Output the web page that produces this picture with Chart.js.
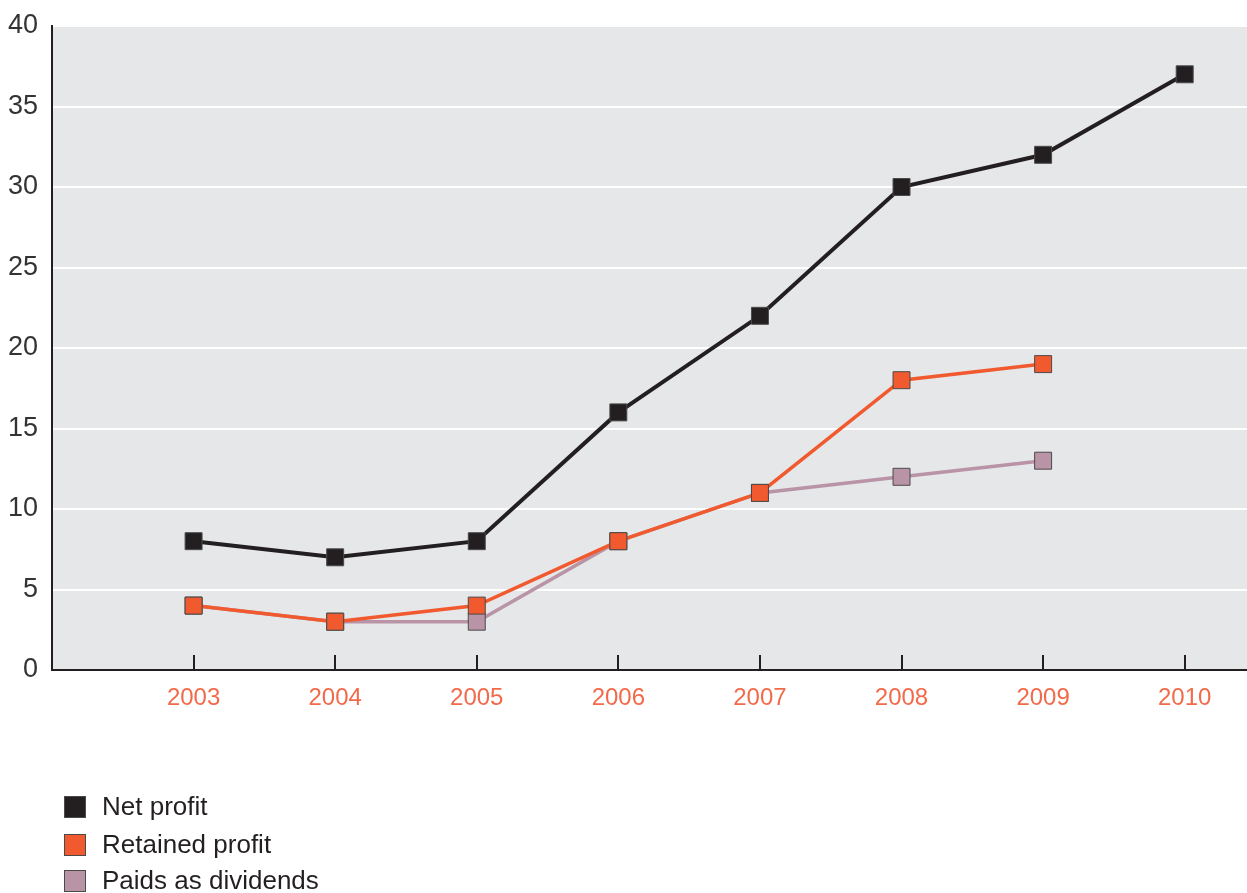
<!DOCTYPE html>
<html>
<head>
<meta charset="utf-8">
<script src="https://cdn.jsdelivr.net/npm/chart.js@4"></script>
<style>
  body { margin: 0; background: #fff; }
  #wrap { position: relative; width: 1247px; height: 893px; overflow: hidden; }
  canvas { display: block; }
  .legend { position: absolute; left: 64px; top: 0; font-family: "Liberation Sans", Arial, sans-serif; font-size: 26px; color: #231f20; }
  .legend div { position: absolute; left: 0; height: 22px; line-height: 22px; white-space: nowrap; }
  .legend span.box { position: absolute; left: 0; top: 0; width: 20px; height: 20px; border: 1px solid #4a4a4a; }
  .legend span.txt { position: absolute; left: 38px; top: -1px; }
</style>
</head>
<body>
<div id="wrap">
  <canvas id="myChart" width="1247" height="893"></canvas>
  <div class="legend" id="legend"></div>
</div>
<script>
// Data
const years = [2003, 2004, 2005, 2006, 2007, 2008, 2009, 2010];
const netProfit = [8, 7, 8, 16, 22, 30, 32, 37];
const retainedProfit = [4, 3, 4, 8, 11, 18, 19, null];
const paidDividends = [4, 3, 3, 8, 11, 12, 13, null];
const seriesNames = ['Net profit', 'Retained profit', 'Paids as dividends'];
const seriesColors = ['#231f20', '#f15a2e', '#b993a6'];
const yTicks = [0, 5, 10, 15, 20, 25, 30, 35, 40];

const toPoints = vals => years.map((y, i) => ({ x: y, y: vals[i] })).filter(p => p.y !== null);

function makeSet(label, vals, color, width) {
    return {
        label: label,
        data: toPoints(vals),
        borderColor: color,
        backgroundColor: color,
        borderWidth: width,
        pointStyle: 'rect',
        pointRadius: 12,
        pointHoverRadius: 12,
        pointBackgroundColor: color,
        pointBorderColor: '#4a4a4a',
        pointBorderWidth: 1,
        tension: 0
    };
}

// Gray plot background + inward ticks on the x axis
const plotDecor = {
    id: 'plotDecor',
    beforeDraw(chart) {
        const a = chart.chartArea;
        const c = chart.ctx;
        c.save();
        c.fillStyle = '#e6e7e9';
        c.fillRect(a.left, a.top, a.right - a.left, a.bottom - a.top);
        c.restore();
    },
    afterDatasetsDraw(chart) {
        const a = chart.chartArea;
        const c = chart.ctx;
        const xs = chart.scales.x;
        c.save();
        c.strokeStyle = '#231f20';
        c.lineWidth = 2;
        years.forEach(y => {
            const px = Math.round(xs.getPixelForValue(y));
            c.beginPath();
            c.moveTo(px, a.bottom - 15);
            c.lineTo(px, a.bottom);
            c.stroke();
        });
        c.restore();
    }
};

const ctx = document.getElementById('myChart').getContext('2d');
new Chart(ctx, {
    type: 'line',
    data: {
        datasets: [
            makeSet(seriesNames[0], netProfit, seriesColors[0], 4),
            makeSet(seriesNames[1], retainedProfit, seriesColors[1], 3.5),
            makeSet(seriesNames[2], paidDividends, seriesColors[2], 3.5)
        ]
    },
    options: {
        responsive: false,
        animation: false,
        layout: { autoPadding: false, padding: { top: 26, right: 0, bottom: 0, left: 0 } },
        scales: {
            x: {
                type: 'linear',
                min: 2002,
                max: 2010.44,
                afterFit: s => { s.height = 223; s.paddingLeft = 0; s.paddingRight = 0; },
                afterBuildTicks: s => { s.ticks = years.map(v => ({ value: v })); },
                grid: { display: false, drawTicks: false },
                border: { display: true, color: '#231f20', width: 2 },
                ticks: {
                    padding: 14,
                    color: '#f26a4a',
                    font: { family: 'Liberation Sans, Arial, sans-serif', size: 24 },
                    callback: v => String(v)
                }
            },
            y: {
                min: 0,
                max: 40,
                afterFit: s => { s.width = 52; s.paddingTop = 0; s.paddingBottom = 0; },
                afterBuildTicks: s => { s.ticks = yTicks.map(v => ({ value: v })); },
                grid: { color: '#ffffff', lineWidth: 2, drawTicks: false },
                border: { display: true, color: '#231f20', width: 2 },
                ticks: {
                    padding: 14,
                    color: '#333333',
                    font: { family: 'Liberation Sans, Arial, sans-serif', size: 27 }
                }
            }
        },
        plugins: {
            legend: { display: false },
            tooltip: { enabled: false }
        }
    },
    plugins: [plotDecor]
});

// Vertical legend below the chart
const legendEl = document.getElementById('legend');
const legendTops = [796, 834, 870];
seriesNames.forEach((name, i) => {
    const row = document.createElement('div');
    row.style.top = legendTops[i] + 'px';
    row.innerHTML = '<span class="box" style="background:' + seriesColors[i] + '"></span><span class="txt">' + name + '</span>';
    legendEl.appendChild(row);
});
</script>
</body>
</html>
